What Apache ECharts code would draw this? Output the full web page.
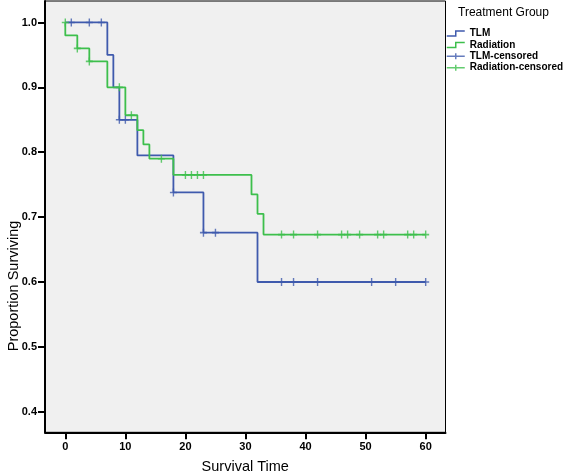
<!DOCTYPE html>
<html>
<head>
<meta charset="utf-8">
<script src="https://cdn.jsdelivr.net/npm/echarts@6/dist/echarts.min.js"></script>
<style>
  html, body { margin: 0; padding: 0; background: #ffffff; }
  #chart { width: 567px; height: 473px; }
</style>
</head>
<body>
<div id="chart"></div>
<script>
// ---- Data ----
const seriesNames = ['TLM', 'Radiation', 'TLM-censored', 'Radiation-censored'];

// Kaplan-Meier step curves: times where the estimate changes, and the value after the change
const tlmTimes = [0, 7, 8, 9, 12, 18, 23, 32, 60];
const tlmSurv  = [1.0, 0.95, 0.90, 0.85, 0.795, 0.738, 0.676, 0.60, 0.60];

const radTimes = [0, 0, 2, 4, 7, 10, 12, 13, 14, 18, 31, 32, 33, 60];
const radSurv  = [1.0, 0.98, 0.96, 0.94, 0.90, 0.857, 0.834, 0.812, 0.790, 0.765, 0.735, 0.705, 0.673, 0.673];

// Censored observations (time, level on the curve)
const tlmCensorTimes = [1, 4, 6, 9, 10, 18, 23, 25, 36, 38, 42, 51, 55, 60];
const tlmCensorSurv  = [1.0, 1.0, 1.0, 0.85, 0.85, 0.738, 0.676, 0.676, 0.60, 0.60, 0.60, 0.60, 0.60, 0.60];

const radCensorTimes = [0, 2, 4, 9, 11, 16, 20, 21, 22, 23, 36, 38, 42, 46, 47, 49, 52, 53, 57, 58, 60];
const radCensorSurv  = [1.0, 0.96, 0.94, 0.90, 0.857, 0.790, 0.765, 0.765, 0.765, 0.765,
                        0.673, 0.673, 0.673, 0.673, 0.673, 0.673, 0.673, 0.673, 0.673, 0.673, 0.673];

// Axis ticks
const xTicks = [0, 10, 20, 30, 40, 50, 60];
const yTicks = [0.4, 0.5, 0.6, 0.7, 0.8, 0.9, 1.0];

// ---- Styling ----
const FONT = '"Liberation Sans", Arial, Helvetica, sans-serif';
const BLUE = '#3f5aad';
const GREEN = '#3dbf4c';
const PLUS = 'path://M0,4L7,4M3.5,0L3.5,8';
const STEP_ICON = 'path://M0,6L9,6L9,1L18,1';
const PLUS_ICON = 'path://M0,3L18,3M9,0L9,6';

const zip = (a, b) => a.map((v, i) => [v, b[i]]);

const chart = echarts.init(document.getElementById('chart'), null, { renderer: 'canvas' });

chart.setOption({
  animation: false,
  backgroundColor: '#ffffff',
  title: {
    text: 'Treatment Group',
    left: 458, top: 7, padding: 0,
    textStyle: { fontFamily: FONT, fontSize: 12, fontWeight: 'normal', color: '#000' }
  },
  legend: {
    orient: 'vertical',
    left: 446, top: 28, padding: 0,
    itemWidth: 18, itemHeight: 7, itemGap: 0.4,
    selectedMode: false,
    textStyle: { fontFamily: FONT, fontSize: 10, fontWeight: 'bold', color: '#000', lineHeight: 11 },
    data: [
      { name: seriesNames[0], icon: STEP_ICON, itemStyle: { color: 'rgba(0,0,0,0)', borderColor: BLUE, borderWidth: 1.5 } },
      { name: seriesNames[1], icon: STEP_ICON, itemStyle: { color: 'rgba(0,0,0,0)', borderColor: GREEN, borderWidth: 1.5 } },
      { name: seriesNames[2], icon: PLUS_ICON, itemStyle: { color: 'rgba(0,0,0,0)', borderColor: BLUE, borderWidth: 1.5 } },
      { name: seriesNames[3], icon: PLUS_ICON, itemStyle: { color: 'rgba(0,0,0,0)', borderColor: GREEN, borderWidth: 1.5 } }
    ]
  },
  grid: {
    left: 45, top: 1, width: 400.5, height: 431.3,
    containLabel: false, outerBoundsMode: 'none',
    show: true, backgroundColor: '#f0f0f0', borderColor: '#000', borderWidth: 1
  },
  xAxis: {
    type: 'value', min: -3.38, max: 63.3,
    axisLine: { show: true, onZero: false, lineStyle: { color: '#000', width: 2 } },
    axisTick: { show: true, customValues: xTicks, length: 7, lineStyle: { color: '#000', width: 2 } },
    axisLabel: { customValues: xTicks, margin: 9, fontFamily: FONT, fontSize: 11, fontWeight: 'bold', color: '#000',
                 formatter: v => String(v) },
    splitLine: { show: false },
    name: 'Survival Time', nameLocation: 'middle', nameGap: 27,
    nameTextStyle: { fontFamily: FONT, fontSize: 14.5, color: '#000' }
  },
  yAxis: {
    type: 'value', min: 0.3683, max: 1.0331,
    axisLine: { show: true, onZero: false, lineStyle: { color: '#000', width: 2 } },
    axisTick: { show: true, customValues: yTicks, length: 7, lineStyle: { color: '#000', width: 2 } },
    axisLabel: { customValues: yTicks, margin: 8, fontFamily: FONT, fontSize: 11, fontWeight: 'bold', color: '#000',
                 formatter: v => Number(v).toFixed(1) },
    splitLine: { show: false }
  },
  graphic: [{
    type: 'text', x: 14, y: 286, rotation: Math.PI / 2,
    style: { text: 'Proportion Surviving', font: '14.5px ' + FONT, fill: '#000', align: 'center', verticalAlign: 'middle' }
  }],
  series: [
    {
      name: seriesNames[0], type: 'line', step: 'end', symbol: 'none', z: 2,
      data: zip(tlmTimes, tlmSurv),
      lineStyle: { color: BLUE, width: 1.8 }, itemStyle: { color: BLUE }
    },
    {
      name: seriesNames[1], type: 'line', step: 'end', symbol: 'none', z: 3,
      data: zip(radTimes, radSurv),
      lineStyle: { color: GREEN, width: 1.8 }, itemStyle: { color: GREEN }
    },
    {
      name: seriesNames[2], type: 'scatter', symbol: PLUS, symbolSize: [7, 8], z: 4,
      data: zip(tlmCensorTimes, tlmCensorSurv),
      itemStyle: { color: 'rgba(0,0,0,0)', borderColor: BLUE, borderWidth: 1.5 }
    },
    {
      name: seriesNames[3], type: 'scatter', symbol: PLUS, symbolSize: [7, 8], z: 5,
      data: zip(radCensorTimes, radCensorSurv),
      itemStyle: { color: 'rgba(0,0,0,0)', borderColor: GREEN, borderWidth: 1.5 }
    }
  ]
});
</script>
</body>
</html>
